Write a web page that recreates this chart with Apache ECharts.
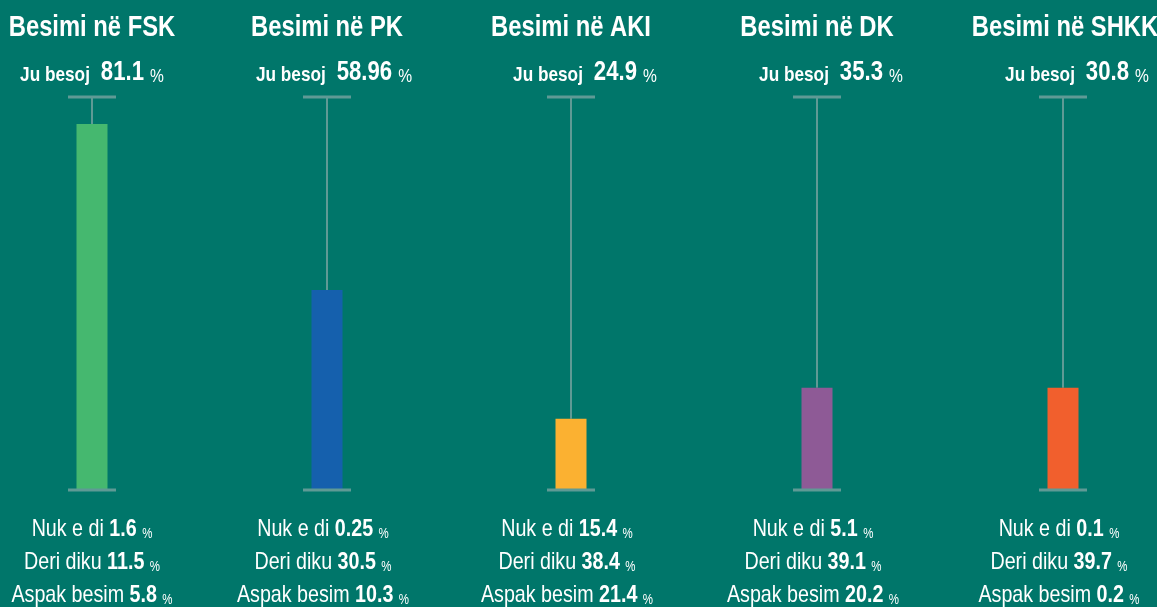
<!DOCTYPE html>
<html>
<head>
<meta charset="utf-8">
<script src="https://cdn.jsdelivr.net/npm/echarts@6/dist/echarts.min.js"></script>
<style>
  html, body { margin: 0; padding: 0; background: #00766a; }
  #chart { width: 1157px; height: 607px; }
</style>
</head>
<body>
<div id="chart"></div>
<script>
// institucionet
const groups = ['FSK', 'PK', 'AKI', 'DK', 'SHKK'];
// "Ju besoj" (%)
const trustValues = ['81.1', '58.96', '24.9', '35.3', '30.8'];
// lartesia e shtyllave, lexuar nga figura (shkalla 0-100 e vijes)
const barHeights = [93.1, 50.9, 18.1, 26.0, 26.0];
// tekstet poshte
const dontKnow = ['1.6', '0.25', '15.4', '5.1', '0.1'];
const somewhat = ['11.5', '30.5', '38.4', '39.1', '39.7'];
const noTrust = ['5.8', '10.3', '21.4', '20.2', '0.2'];

const barColors = ['#45b86f', '#1560ad', '#fbb131', '#8e5a96', '#f15f2d'];
const lineColor = '#5f9a95';
const font = "'Liberation Sans', Arial, sans-serif";
const narrow = 0.82;   // shkronja te ngushta

// qendrat e kolonave (px)
const barCenters = [92, 327, 571, 817, 1063];
const headCenters = [92, 327, 571, 817, 1065];
const subCenters = [92, 334, 585, 831, 1077];
const footCenters = [92, 323, 567, 813, 1059];

let grids = [], xAxes = [], yAxes = [], series = [], texts = [];

// stil per nje pjese teksti, baseline ne fund te rreshtit
function tok(size, bold) {
  return {
    fill: '#fff', fontFamily: font, fontSize: size,
    fontWeight: bold ? 'bold' : 'normal',
    lineHeight: Math.round(size * 0.693), verticalAlign: 'bottom'
  };
}
function textRow(x, y, str, rich) {
  return {
    type: 'text', x: x, y: y, scaleX: narrow,
    style: { text: str, rich: rich, align: 'center', verticalAlign: 'bottom' }
  };
}

groups.forEach((g, i) => {
  grids.push({ left: barCenters[i] - 60, width: 120, top: 97, height: 393 });
  xAxes.push({ gridIndex: i, type: 'category', data: [g], show: false });
  yAxes.push({ gridIndex: i, type: 'value', min: 0, max: 100, show: false });

  // vija vertikale me kapak lart
  series.push({
    type: 'custom',
    xAxisIndex: i, yAxisIndex: i,
    z: 1,
    data: [[0, barHeights[i]]],
    renderItem: function (params, api) {
      const top = api.coord([0, 100]);
      const v = api.coord([0, api.value(1)]);
      return {
        type: 'group',
        children: [
          { type: 'line', shape: { x1: top[0], y1: top[1], x2: v[0], y2: v[1] }, style: { stroke: lineColor, lineWidth: 2 } },
          { type: 'line', shape: { x1: top[0] - 24, y1: top[1], x2: top[0] + 24, y2: top[1] }, style: { stroke: lineColor, lineWidth: 3 } }
        ]
      };
    }
  });
  series.push({
    type: 'bar',
    xAxisIndex: i, yAxisIndex: i,
    z: 2,
    barWidth: 31,
    itemStyle: { color: barColors[i] },
    data: [barHeights[i]]
  });
  // kapaku i poshtem mbi shtyllen
  series.push({
    type: 'custom',
    xAxisIndex: i, yAxisIndex: i,
    z: 3,
    data: [[0, 0]],
    renderItem: function (params, api) {
      const bot = api.coord([0, 0]);
      return {
        type: 'line',
        shape: { x1: bot[0] - 24, y1: bot[1], x2: bot[0] + 24, y2: bot[1] },
        style: { stroke: lineColor, lineWidth: 3 }
      };
    }
  });

  texts.push(textRow(headCenters[i], 42, '{h|Besimi në ' + g + '}', { h: tok(29, true) }));
  texts.push(textRow(subCenters[i], 86,
    '{a|Ju besoj }{b| ' + trustValues[i] + ' }{c|%}',
    { a: tok(21, true), b: tok(27, true), c: tok(19, false) }));
  const foot = { r: tok(24, false), b: tok(24, true), p: tok(14, false) };
  texts.push(textRow(footCenters[i], 541, '{r|Nuk e di }{b|' + dontKnow[i] + ' }{p|%}', foot));
  texts.push(textRow(footCenters[i], 574, '{r|Deri diku }{b|' + somewhat[i] + ' }{p|%}', foot));
  texts.push(textRow(footCenters[i], 607, '{r|Aspak besim }{b|' + noTrust[i] + ' }{p|%}', foot));
});

const chart = echarts.init(document.getElementById('chart'));
chart.setOption({
  backgroundColor: '#00766a',
  animation: false,
  grid: grids,
  xAxis: xAxes,
  yAxis: yAxes,
  series: series,
  graphic: texts
});
</script>
</body>
</html>
